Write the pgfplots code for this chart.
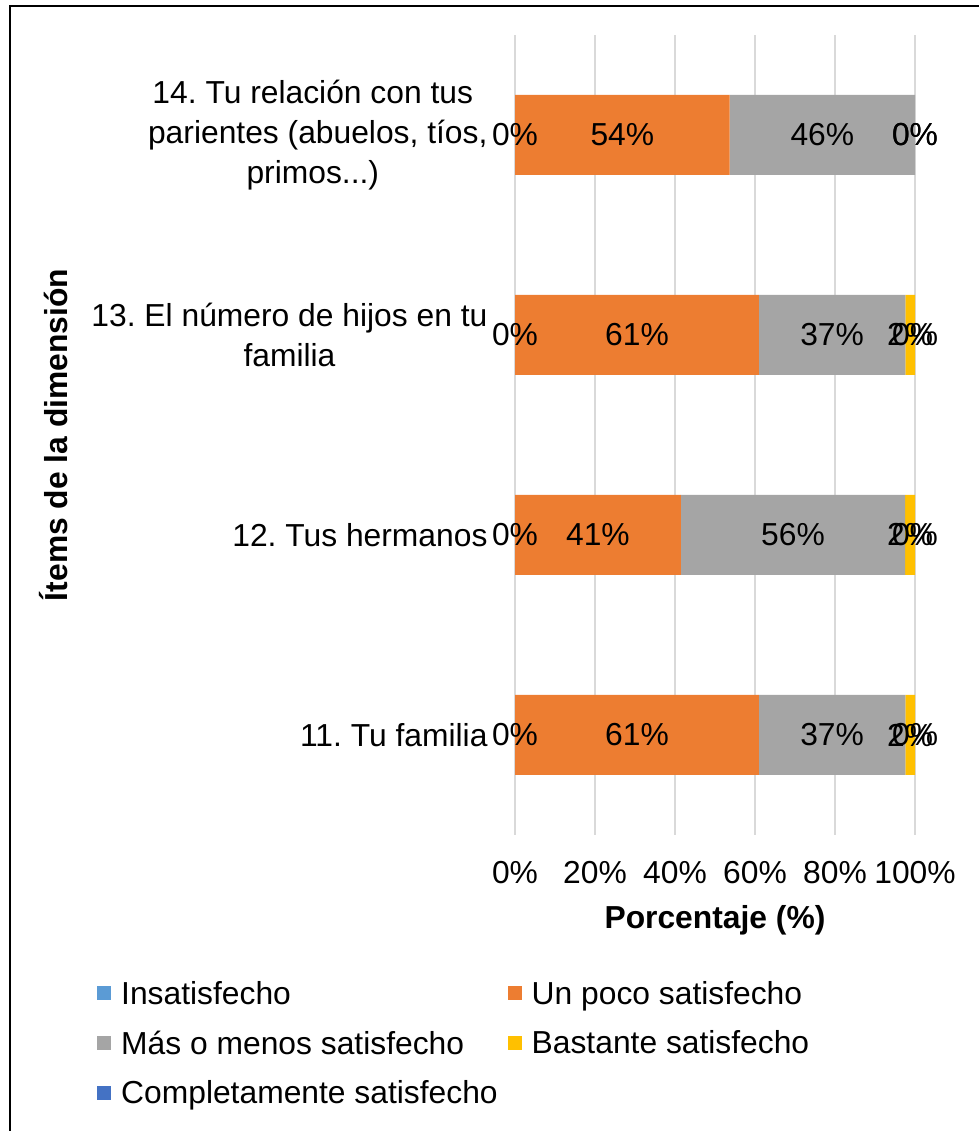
\documentclass[border=0pt]{standalone}
\usepackage{pgfplots}
\usepackage{pgfplotstable}
\pgfplotsset{compat=1.18}
\usepackage{fontspec}
\setmainfont{Liberation Sans}
\frenchspacing
\definecolor{cI}{HTML}{5B9BD5}
\definecolor{cU}{HTML}{ED7D31}
\definecolor{cM}{HTML}{A5A5A5}
\definecolor{cB}{HTML}{FFC000}
\definecolor{cC}{HTML}{4472C4}
\definecolor{gridc}{HTML}{D9D9D9}
\newcommand\lbl{\fontsize{31.8}{40}\selectfont}
\newcommand\labD{14. Tu relación con tus\hspace*{10pt}\\parientes (abuelos, tíos,\hspace*{10pt}\\primos.{}.{}.)\hspace*{10pt}}
\newcommand\labC{13. El número de hijos en tu\\familia}
\pgfplotstableread{
pos a b c d e
0 0 60.98 36.59 2.44 0
1 0 41.46 56.10 2.44 0
2 0 60.98 36.59 2.44 0
3 0 53.66 46.34 0 0
}\data
\pgfplotstablecreatecol[create col/expr={\thisrow{a}/2}]{ma}\data
\pgfplotstablecreatecol[create col/expr={\thisrow{a}+\thisrow{b}/2}]{mb}\data
\pgfplotstablecreatecol[create col/expr={\thisrow{a}+\thisrow{b}+\thisrow{c}/2}]{mc}\data
\pgfplotstablecreatecol[create col/expr={\thisrow{a}+\thisrow{b}+\thisrow{c}+\thisrow{d}/2}]{md}\data
\pgfplotstablecreatecol[create col/expr={\thisrow{a}+\thisrow{b}+\thisrow{c}+\thisrow{d}+\thisrow{e}/2}]{me}\data
\begin{document}
\begin{tikzpicture}
\useasboundingbox (0,0) rectangle (979pt,1131pt);
\fill[white] (0,0) rectangle (979pt,1131pt);
\draw[line width=2pt] (10pt,0) -- (10pt,1125pt) -- (979pt,1125pt);
\pgfplotsset{base/.style={at={(515pt,296pt)}, anchor=south west, scale only axis,
  width=400pt, height=800pt, xmin=0, xmax=100, ymin=-0.5, ymax=3.5}}
\begin{axis}[base, xbar stacked, bar width=80pt,
  xtick={0,20,40,60,80,100},
  xticklabels={0\%,20\%,40\%,60\%,80\%,100\%},
  ytick={0,1,2,3},
  yticklabels={{11. Tu familia},{12. Tus hermanos},{\labC},{\labD}},
  xmajorgrids, major grid style={draw=gridc, line width=1.75pt},
  axis line style={draw=none}, major tick length=0pt,
  tick label style={font=\lbl},
  yticklabel style={align=center, xshift=-24pt},
  xticklabel style={anchor=base, yshift=-49pt},
  xlabel={\textbf{Porcentaje (\%)}},
  xlabel style={font=\lbl, at={(axis description cs:0.5,-0.11625)}, anchor=base},
  ylabel={\textbf{Ítems de la dimensión}},
  ylabel style={font=\lbl, at={(axis description cs:-1.1175,0.5)}, anchor=base, rotate=0},
  legend image code/.code={\fill[#1] (0pt,-7pt) rectangle (14pt,7pt);},
  legend style={at={(axis description cs:-1.045,-0.18)}, anchor=north west,
    draw=none, fill=none, inner sep=0pt, legend columns=2, font=\lbl,
    row sep=21pt,
    /tikz/every odd column/.append style={column sep=8pt},
    /tikz/every even column/.append style={column sep=8pt}},
  legend cell align=left,
]
\addplot[fill=cI, draw=none] table[x=a, y=pos] {\data};
\addlegendentry{Insatisfecho}
\addplot[fill=cU, draw=none] table[x=b, y=pos] {\data};
\addlegendentry{Un poco satisfecho}
\addplot[fill=cM, draw=none] table[x=c, y=pos] {\data};
\addlegendentry{Más o menos satisfecho}
\addplot[fill=cB, draw=none] table[x=d, y=pos] {\data};
\addlegendentry{Bastante satisfecho}
\addplot[fill=cC, draw=none] table[x=e, y=pos] {\data};
\addlegendentry{Completamente satisfecho}
\end{axis}
\begin{axis}[base, hide axis, clip=false,
  nodes near coords={\pgfmathprintnumber[fixed,precision=0,assume math mode=true]{\pgfplotspointmeta}\%},
  nodes near coords style={anchor=center, font=\lbl, text=black},
  point meta=explicit]
\addplot[draw=none] table[x=ma, y=pos, meta=a] {\data};
\addplot[draw=none] table[x=mb, y=pos, meta=b] {\data};
\addplot[draw=none] table[x=mc, y=pos, meta=c] {\data};
\addplot[draw=none] table[x=md, y=pos, meta=d] {\data};
\addplot[draw=none] table[x=me, y=pos, meta=e] {\data};
\end{axis}
\end{tikzpicture}
\end{document}
